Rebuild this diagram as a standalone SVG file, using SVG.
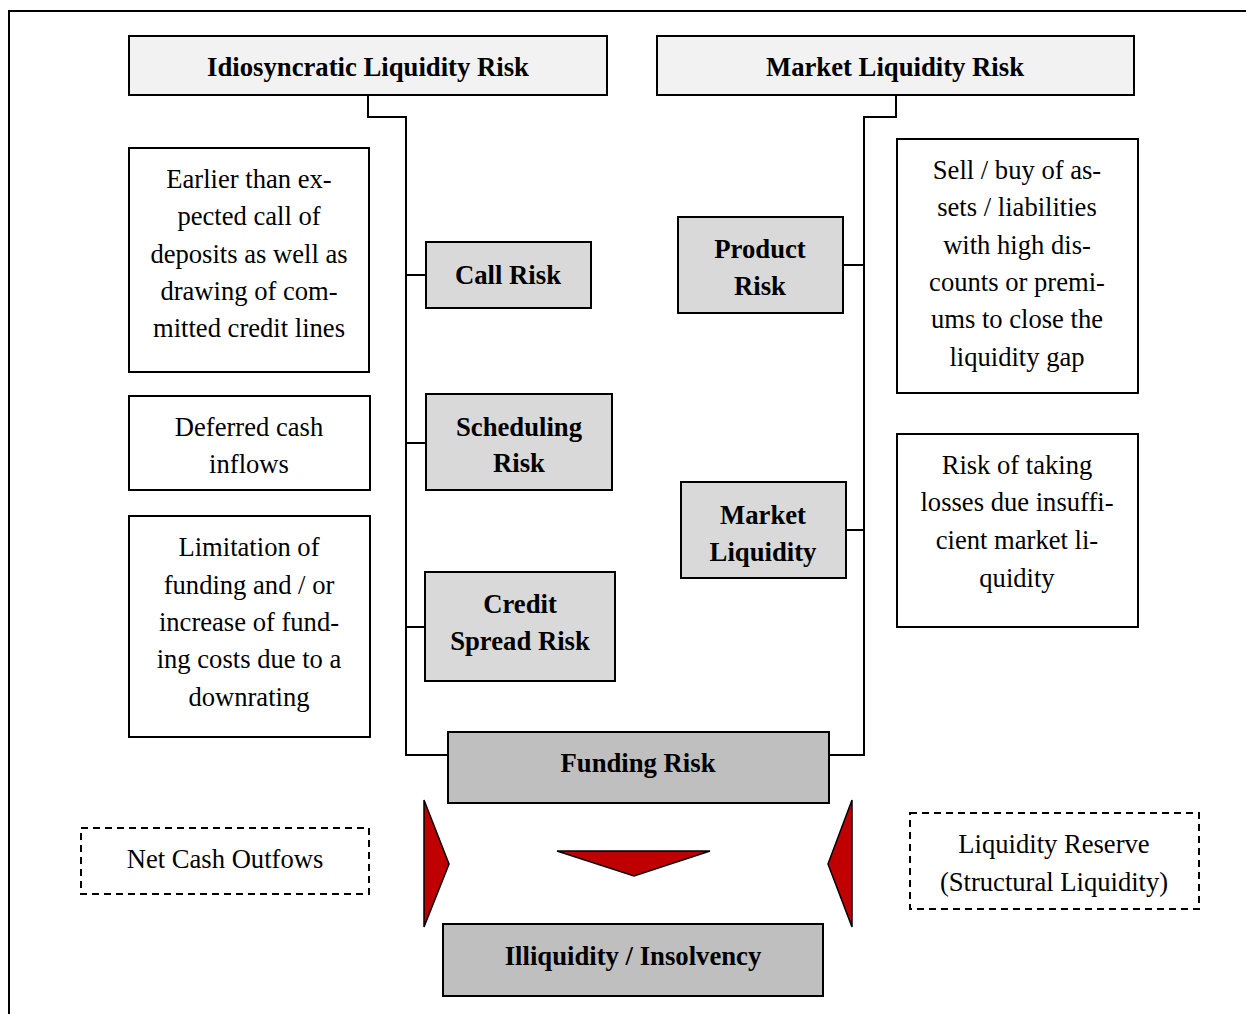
<svg xmlns="http://www.w3.org/2000/svg" width="1246" height="1014" viewBox="0 0 1246 1014">
<style>
.bx{stroke:#000;stroke-width:2}
.hd{fill:#f2f2f2}
.rk{fill:#d9d9d9}
.fr{fill:#bfbfbf}
.tx{fill:#fff}
.ds{fill:#fff;stroke:#000;stroke-width:2;stroke-dasharray:7 5}
.b{font-family:"Liberation Serif","Times New Roman",serif;font-weight:bold;font-size:26.7px;text-anchor:middle;fill:#000}
.r{font-family:"Liberation Serif","Times New Roman",serif;font-size:26.6px;text-anchor:middle;fill:#000}
.cn{fill:none;stroke:#000;stroke-width:2}
.tri{fill:#c00000;stroke:#000;stroke-width:1.5}
</style>
<rect width="1246" height="1014" fill="#fff"/>
<path d="M9,1014 V11 H1246" fill="none" stroke="#000" stroke-width="2"/>
<g id="connectors">
<path class="cn" d="M368,95 V117 H406 V755 H448"/>
<path class="cn" d="M406,275 H426 M406,443 H426 M406,627 H425"/>
<path class="cn" d="M896,95 V117 H864 V755 H829"/>
<path class="cn" d="M864,265 H843 M864,530 H846"/>
</g>
<g id="idiosyncratic"><rect class="bx hd" x="129" y="36" width="478" height="59"/><text class="b" x="368" y="76">Idiosyncratic Liquidity Risk</text></g>
<g id="market"><rect class="bx hd" x="657" y="36" width="477" height="59"/><text class="b" x="895" y="76">Market Liquidity Risk</text></g>
<g id="earlier"><rect class="bx tx" x="129" y="148" width="240" height="224"/>
<text class="r" x="249" y="188">Earlier than ex-</text><text class="r" x="249" y="225">pected call of</text><text class="r" x="249" y="263">deposits as well as</text><text class="r" x="249" y="300">drawing of com-</text><text class="r" x="249" y="337">mitted credit lines</text></g>
<g id="deferred"><rect class="bx tx" x="129" y="396" width="241" height="94"/>
<text class="r" x="249" y="436">Deferred cash</text><text class="r" x="249" y="473">inflows</text></g>
<g id="limitation"><rect class="bx tx" x="129" y="516" width="241" height="221"/>
<text class="r" x="249" y="556">Limitation of</text><text class="r" x="249" y="594">funding and / or</text><text class="r" x="249" y="631">increase of fund-</text><text class="r" x="249" y="668">ing costs due to a</text><text class="r" x="249" y="706">downrating</text></g>
<g id="call"><rect class="bx rk" x="426" y="242" width="165" height="66"/><text class="b" x="508" y="284">Call Risk</text></g>
<g id="scheduling"><rect class="bx rk" x="426" y="394" width="186" height="96"/><text class="b" x="519" y="436">Scheduling</text><text class="b" x="519" y="472">Risk</text></g>
<g id="credit"><rect class="bx rk" x="425" y="572" width="190" height="109"/><text class="b" x="520" y="613">Credit</text><text class="b" x="520" y="650">Spread Risk</text></g>
<g id="product"><rect class="bx rk" x="678" y="217" width="165" height="96"/><text class="b" x="760" y="258">Product</text><text class="b" x="760" y="295">Risk</text></g>
<g id="marketliq"><rect class="bx rk" x="681" y="482" width="165" height="96"/><text class="b" x="763" y="524">Market</text><text class="b" x="763" y="561">Liquidity</text></g>
<g id="sell"><rect class="bx tx" x="897" y="139" width="241" height="254"/>
<text class="r" x="1017" y="179">Sell / buy of as-</text><text class="r" x="1017" y="216">sets / liabilities</text><text class="r" x="1017" y="254">with high dis-</text><text class="r" x="1017" y="291">counts or premi-</text><text class="r" x="1017" y="328">ums to close the</text><text class="r" x="1017" y="366">liquidity gap</text></g>
<g id="risktaking"><rect class="bx tx" x="897" y="434" width="241" height="193"/>
<text class="r" x="1017" y="474">Risk of taking</text><text class="r" x="1017" y="511">losses due insuffi-</text><text class="r" x="1017" y="549">cient market li-</text><text class="r" x="1017" y="587">quidity</text></g>
<g id="funding"><rect class="bx fr" x="448" y="732" width="381" height="71"/><text class="b" x="638" y="772">Funding Risk</text></g>
<g id="netcash"><rect class="ds" x="81" y="828" width="288" height="66"/><text class="r" x="225" y="868">Net Cash Outfows</text></g>
<g id="reserve"><rect class="ds" x="910" y="813" width="289" height="96"/><text class="r" x="1054" y="853">Liquidity Reserve</text><text class="r" x="1054" y="891">(Structural Liquidity)</text></g>
<g id="arrows">
<polygon class="tri" points="424,800 449,864 424,927"/>
<polygon class="tri" points="557,851 710,851 634,876"/>
<polygon class="tri" points="852,800 828,864 852,927"/>
</g>
<g id="illiquidity"><rect class="bx fr" x="443" y="924" width="380" height="72"/><text class="b" x="633" y="965">Illiquidity / Insolvency</text></g>
</svg>
